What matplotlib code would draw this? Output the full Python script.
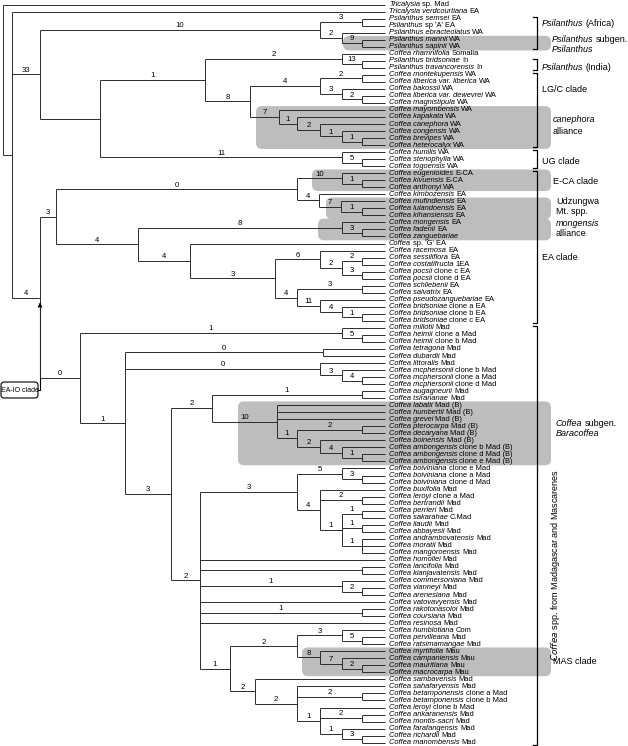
import matplotlib
matplotlib.use("Agg")
import matplotlib.pyplot as plt
from matplotlib.patches import FancyBboxPatch

plt.rcParams['font.family'] = ['Liberation Sans', 'DejaVu Sans']

# tip names: italic part and plain suffix
tip_italic = [
    "Tricalysia", "Tricalysia verdcourtiana", "Psilanthus semsei", "Psilanthus",
    "Psilanthus ebracteolatus", "Psilanthus mannii", "Psilanthus sapinii", "Coffea rhamnifolia",
    "Psilanthus bridsoniae", "Psilanthus travancorensis", "Coffea montekupensis",
    "Coffea liberica var. liberica", "Coffea bakossii", "Coffea liberica var. dewevrei",
    "Coffea magnistipula", "Coffea mayombensis", "Coffea kapakata", "Coffea canephora",
    "Coffea congensis", "Coffea brevipes", "Coffea heterocalyx", "Coffea humilis",
    "Coffea stenophylla", "Coffea togoensis", "Coffea eugenioides", "Coffea kivuensis",
    "Coffea anthonyi", "Coffea kimbozensis", "Coffea mufindiensis", "Coffea lulandoensis",
    "Coffea kihansiensis", "Coffea mongensis", "Coffea fadenii", "Coffea zanguebariae",
    "Coffea", "Coffea racemosa", "Coffea sessiliflora", "Coffea costatifructa",
    "Coffea pocsii", "Coffea pocsii", "Coffea schliebenii", "Coffea salvatrix",
    "Coffea pseudozanguebariae", "Coffea bridsoniae", "Coffea bridsoniae", "Coffea bridsoniae",
    "Coffea millotii", "Coffea heimii", "Coffea heimii", "Coffea tetragona",
    "Coffea dubardii", "Coffea littoralis", "Coffea mcphersonii", "Coffea mcphersonii",
    "Coffea mcphersonii", "Coffea augagneurii", "Coffea tsirananae", "Coffea labatii",
    "Coffea humbertii", "Coffea grevei", "Coffea pterocarpa", "Coffea decaryana",
    "Coffea boinensis", "Coffea ambongensis", "Coffea ambongensis", "Coffea ambongensis",
    "Coffea boiviniana", "Coffea boiviniana", "Coffea boiviniana", "Coffea buxifolia",
    "Coffea leroyi", "Coffea bertrandii", "Coffea perrieri", "Coffea sakarahae",
    "Coffea liaudii", "Coffea abbayesii", "Coffea andrambovatensis", "Coffea moratii",
    "Coffea mangoroensis", "Coffea homollei", "Coffea lancifolia", "Coffea kianjavatensis",
    "Coffea commersoniana", "Coffea vianneyi", "Coffea arenesiana", "Coffea vatovavyensis",
    "Coffea rakotonasoloi", "Coffea coursiana", "Coffea resinosa", "Coffea humblotiana",
    "Coffea pervilleana", "Coffea ratsimamangae", "Coffea myrtifolia", "Coffea campaniensis",
    "Coffea mauritiana", "Coffea macrocarpa", "Coffea sambavensis", "Coffea sahafaryensis",
    "Coffea betamponensis", "Coffea betamponensis", "Coffea leroyi", "Coffea ankaranensis",
    "Coffea montis-sacri", "Coffea farafangensis", "Coffea richardii", "Coffea manombensis",
]
tip_suffix = [
    "sp. Mad", "EA", "EA", "sp 'A' EA", "WA", "WA", "WA", "Somalia", "In", "In",
    "WA", "WA", "WA", "WA", "WA", "WA", "WA", "WA", "WA", "WA", "WA", "WA", "WA", "WA",
    "E-CA", "E-CA", "WA", "EA", "EA", "EA", "EA", "EA", "EA", "", "sp. 'G' EA", "EA", "EA",
    "1EA", "clone c EA", "clone d EA", "EA", "EA", "EA", "clone a EA", "clone b EA",
    "clone c EA", "Mad", "clone a Mad", "clone b Mad", "Mad", "Mad", "Mad", "clone b Mad",
    "clone a Mad", "clone d Mad", "Mad", "Mad", "Mad (B)", "Mad (B)", "Mad (B)", "Mad (B)",
    "Mad (B)", "Mad (B)", "clone b Mad (B)", "clone d Mad (B)", "clone e Mad (B)",
    "clone e Mad", "clone a Mad", "clone d Mad", "Mad", "clone a Mad", "Mad", "Mad", "C.Mad",
    "Mad", "Mad", "Mad", "Mad", "Mad", "Mad", "Mad", "Mad", "Mad", "Mad", "Mad", "Mad",
    "Mad", "Mad", "Mad", "Com", "Mad", "Mad", "Mau", "Mau", "Mau", "Mau", "Mad", "Mad",
    "clone a Mad", "clone b Mad", "clone b Mad", "Mad", "Mad", "Mad", "Mad", "Mad",
]

# subtrees: (children)support@node_x ; integers are tip numbers
PA = "((3,4)3@362,(5,(6,7)9@362)2@342)10@320"
IN = "(8,(9,10)13@362)2@342"
LGC = "((11,12)2@362,(13,(14,15)2@362)3@342)4@320"
CAN = "(16,(17,(18,(19,(20,21)1@362)1@342)2@320)1@297)7@279"
UG = "(22,(23,24)5@362)11@342"
ECA = "((25,(26,27)1@362)10@342,(28,(29,(30,31)1@362)7@341)4@319)0@297"
MONG = "(32,(33,34)3@362)8@342"
RAC = "(36,((37,38)2@362,(39,40)3@362)2@342)6@320"
BRID = "((41,42)3@362,(43,(44,(45,46)1@362)4@342)11@320)4@297"
MIL = "(47,(48,49)5@362)1@342"
TET = "(50,51)0@323"
MCP = "(52,(53,(54,55)4@362)3@342)0@320"
AUG = "(56,57)1@362"
BAR = "(58,59,60,((61,62)2@362,(63,(64,(65,66)1@362)4@342)2@320)1@297)10@277"
BOI = "(67,(68,69)3@362)5@342"
BUX = "(70,(71,72)2@362,((73,74)1@362,(75,76)1@362,(77,78,79)1@362)1@342)4@320"
COM = "(83,(84,85)2@362)1@342"
RAK = "(87,88)1@362"
HM = "((90,(91,92)5@362)3@342,(93,(94,(95,96)2@362)7@342)8@320)2@297"
SAH = "(98,(99,100)2@362,(101,(102,103)2@362,(104,(105,106)3@362)1@342)1@320)2@297"

WAC = f"({IN},({LGC},{CAN})8@250)1@205"
EA = f"({ECA},({MONG},(35,({RAC},{BRID})3@275)4@190)4@138)3@56"
LOW = f"(({BOI},{BUX})3@297,80,(81,82)@362,{COM},86,{RAK},89,({HM},(97,{SAH})2@255)1@230)2@200"
MAD = f"({MIL},({TET},{MCP},(({AUG},{BAR})2@212,{LOW})3@171)1@125)0@80"
TREE = f"(1,(2,({PA},({WAC},{UG})@100)33@40,({EA},{MAD})4@40)@12)@3"

TIP_X = 385
Y0, DY = 4.5, 7.03


def parse(s):
    pos = 0

    def node():
        nonlocal pos
        if s[pos] == '(':
            pos += 1
            kids = [node()]
            while s[pos] == ',':
                pos += 1
                kids.append(node())
            pos += 1
            j = pos
            while pos < len(s) and s[pos] not in ',)@':
                pos += 1
            label = s[j:pos]
            x = None
            if pos < len(s) and s[pos] == '@':
                pos += 1
                j = pos
                while pos < len(s) and s[pos] not in ',)':
                    pos += 1
                x = float(s[j:pos])
            return {'kids': kids, 'label': label, 'x': x}
        j = pos
        while s[pos] not in ',)':
            pos += 1
        i = int(s[j:pos])
        return {'tip': i, 'x': TIP_X, 'y': Y0 + (i - 1) * DY, 'label': ''}

    return node()


fig = plt.figure(figsize=(6.28, 7.46), dpi=100)
ax = fig.add_axes([0, 0, 1, 1])
ax.set_xlim(0, 628)
ax.set_ylim(746, 0)
ax.axis('off')

LC = '#2b2b2b'
LW = 0.7


def draw(nd, parent_x=None):
    if 'kids' in nd:
        for k in nd['kids']:
            draw(k, nd['x'])
        nd['y'] = (nd['kids'][0]['y'] + nd['kids'][-1]['y']) / 2
        ax.plot([nd['x'], nd['x']], [nd['kids'][0]['y'], nd['kids'][-1]['y']],
                color=LC, lw=LW, solid_capstyle='butt', zorder=3)
    if parent_x is not None:
        ax.plot([parent_x, nd['x']], [nd['y'], nd['y']], color=LC, lw=LW,
                solid_capstyle='butt', zorder=3)
        if nd['label']:
            ax.text((parent_x + nd['x']) / 2, nd['y'] - 0.8, nd['label'], fontsize=5.6,
                    ha='center', va='bottom', zorder=4)


root = parse(TREE)
draw(root)
# EA-IO node: last child of the node at x=12
eaio = root['kids'][1]['kids'][-1]

fig.canvas.draw()
renderer = fig.canvas.get_renderer()


def rich(x, y, parts, size, **kw):
    # parts: list of (text, italic); laid out left to right
    for txt, italic in parts:
        t = ax.text(x, y, txt, fontsize=size, style='italic' if italic else 'normal',
                    va='center', ha='left', zorder=6, **kw)
        bb = t.get_window_extent(renderer)
        x = ax.transData.inverted().transform((bb.x1, 0))[0] + size * 0.38


# tip labels
for i, (it, suf) in enumerate(zip(tip_italic, tip_suffix)):
    parts = [(it, True)] + ([(suf, False)] if suf else [])
    rich(TIP_X + 4, Y0 + i * DY, parts, 5.4)

# grey boxes: first tip, last tip, left x
grey_boxes = [(6, 7, 343), (16, 21, 256), (25, 27, 312), (29, 31, 326), (32, 34, 318),
              (58, 66, 238), (93, 96, 302)]
for a, b, x0 in grey_boxes:
    ya = Y0 + (a - 1) * DY - 3.8
    yb = Y0 + (b - 1) * DY + 3.8
    ax.add_patch(FancyBboxPatch((x0, ya), 551 - x0, yb - ya,
                                boxstyle='round,pad=0,rounding_size=6',
                                fc='#bdbdbd', ec='none', zorder=1))

# brackets: first tip, last tip
brackets = [(3, 7), (9, 10), (11, 21), (22, 24), (25, 46), (47, 106)]
BX = 537
for a, b in brackets:
    ya = Y0 + (a - 1) * DY - 2
    yb = Y0 + (b - 1) * DY + 2
    ax.plot([BX - 4, BX, BX, BX - 4], [ya, ya, yb, yb], color='k', lw=0.9, zorder=3)

AF = 6.5
rich(542, 23, [("Psilanthus", True), ("(Africa)", False)], AF)
rich(552, 40, [("Psilanthus", True), ("subgen.", False)], AF)
rich(552, 50, [("Psilanthus", True)], AF)
rich(542, 68, [("Psilanthus", True), ("(India)", False)], AF)
rich(542, 90, [("LG/C clade", False)], AF)
rich(553, 120, [("canephora", True)], AF)
rich(553, 131, [("alliance", False)], AF)
rich(542, 161, [("UG clade", False)], AF)
rich(553, 181, [("E-CA clade", False)], AF)
rich(556, 202, [("Udzungwa", False)], AF)
rich(556, 212, [("Mt. spp.", False)], AF)
rich(556, 223, [("mongensis", True)], AF)
rich(556, 233, [("alliance", False)], AF)
rich(542, 258, [("EA clade", False)], AF)
rich(556, 424, [("Coffea", True), ("subgen.", False)], AF)
rich(556, 434, [("Baracoffea", True)], AF)
rich(553, 662, [("MAS clade", False)], AF)
ax.text(556, 565, "$\\it{Coffea}$ spp. from Madagascar and Mascarenes", fontsize=AF,
        rotation=90, ha='center', va='center')

# EA-IO clade pointer
ax.add_patch(FancyBboxPatch((1, 382), 37, 16, boxstyle='round,pad=0,rounding_size=3',
                            fc='white', ec='k', lw=0.8, zorder=5))
ax.text(19.5, 390, "EA-IO clade", fontsize=5.0, ha='center', va='center', zorder=6)
tip_y = eaio['y'] + 2
ax.plot([38, 40, 40], [390, 390, tip_y + 8], color='k', lw=0.8)
ax.annotate('', xy=(40, tip_y), xytext=(40, tip_y + 9),
            arrowprops=dict(arrowstyle='-|>', color='k', lw=0.8, mutation_scale=6))

fig.savefig('out.png', dpi=100)
